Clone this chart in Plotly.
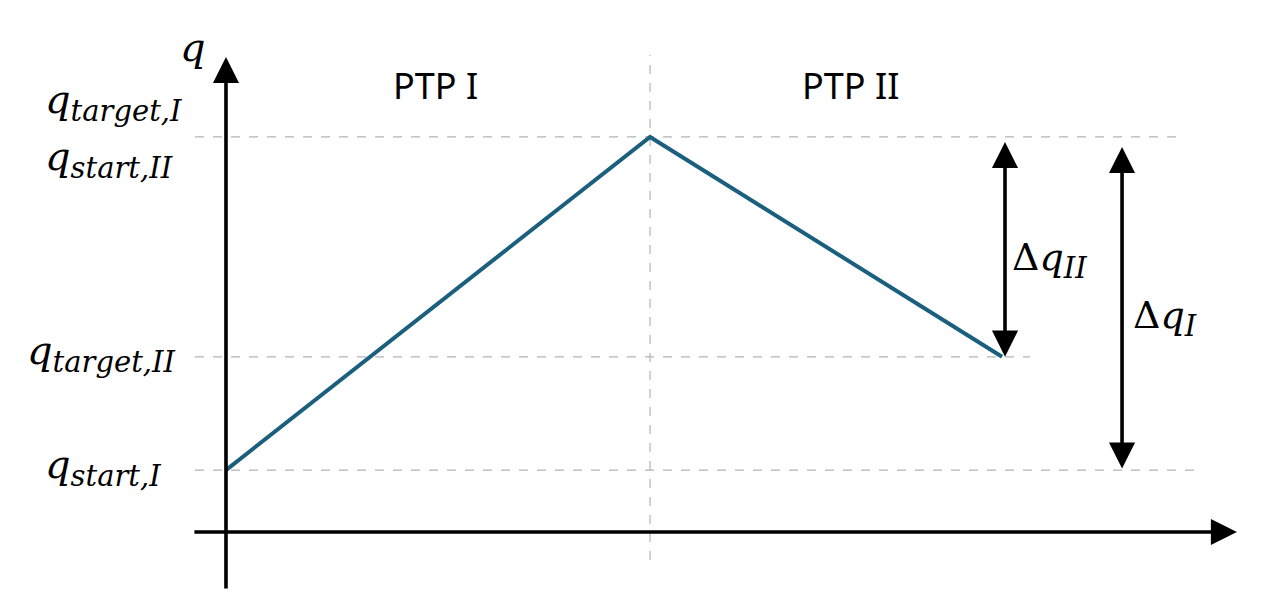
import plotly.graph_objects as go

# ---- data ----
t_points = [0.0, 1.0, 1.83]          # time: start, switch, end
q_points = [0.0, 1.0, 0.34]          # joint position
level_names = ["q_start_I", "q_target_I", "q_target_II"]
level_values = [0.0, 1.0, 0.34]
segment_labels = ["PTP I", "PTP II"]

LINE_COLOR = "#1b5f7f"
GRID = "#b4b4b4"

fig = go.Figure()
fig.add_trace(go.Scatter(x=t_points, y=q_points, mode="lines",
                         line=dict(color=LINE_COLOR, width=4), hoverinfo="skip"))

# dashed level lines
ends = {"q_start_I": 2.297, "q_target_I": 2.25, "q_target_II": 1.896}
for name, v in zip(level_names, level_values):
    fig.add_shape(type="line", x0=-0.073, x1=ends[name], y0=v, y1=v,
                  line=dict(color=GRID, width=1.2, dash="dash"), layer="below")
# vertical dashed at switch
fig.add_shape(type="line", x0=t_points[1], x1=t_points[1], y0=-0.27, y1=1.246,
              line=dict(color=GRID, width=1.2, dash="dash"), layer="below")

def arrow(x0, y0, x1, y1, both=False):
    fig.add_annotation(x=x1, y=y1, ax=x0, ay=y0, xref="x", yref="y", axref="x", ayref="y",
                       showarrow=True, arrowhead=2, arrowsize=1.45, arrowwidth=3.6,
                       arrowcolor="black", arrowside="end+start" if both else "end", text="")

# axes
arrow(0, -0.36, 0, 1.24)
arrow(-0.078, -0.186, 2.384, -0.186)
# delta arrows
arrow(1.837, 0.336, 1.837, 0.985, both=True)
arrow(2.113, 0.0, 2.113, 0.97, both=True)

SERIF = "DejaVu Serif"
SUB = "<sub><span style='font-size:29px'>%s</span></sub>"
def label(x, y, html, xanchor="left", size=40):
    fig.add_annotation(x=x, y=y, xref="x", yref="y", text=html, showarrow=False,
                       xanchor=xanchor, yanchor="middle",
                       font=dict(family=SERIF, size=size, color="black"))

label(-0.112, 1.27, "<i>q</i>", size=40)
label(-0.432, 1.105, "<i>q" + SUB % "target,I" + "</i>")
label(-0.432, 0.935, "<i>q" + SUB % "start,II" + "</i>")
label(-0.474, 0.35, "<i>q" + SUB % "target,II" + "</i>")
label(-0.432, 0.01, "<i>q" + SUB % "start,I" + "</i>")
label(1.848, 0.63, "Δ<i>q" + SUB % "II" + "</i>", size=38)
label(2.133, 0.455, "Δ<i>q" + SUB % "I" + "</i>", size=38)

for x, s in zip([0.493, 1.472], segment_labels):
    fig.add_annotation(x=x, y=1.155, xref="x", yref="y", text=s, showarrow=False,
                       font=dict(family="Noto Sans", size=36, color="black"))

fig.update_layout(width=1254, height=594, margin=dict(l=0, r=0, t=0, b=0),
                  plot_bgcolor="white", paper_bgcolor="white", showlegend=False)
fig.update_xaxes(range=[-0.514, 2.443], visible=False)
fig.update_yaxes(range=[-0.396, 1.387], visible=False)
fig.write_html("out.html")
